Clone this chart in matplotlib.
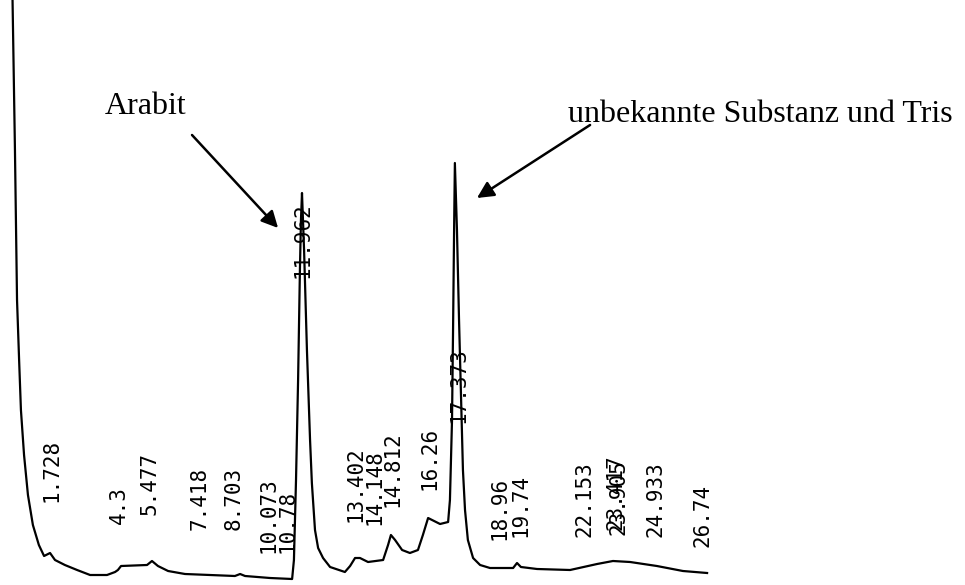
import numpy as np
import matplotlib.pyplot as plt

# ==============================
# Chromatogramm-Daten (Zeit in min, Signal in willk. Einheiten)
# ==============================
zeit = [0.36, 0.46, 0.54, 0.62, 0.69, 0.81, 0.96, 1.15, 1.38, 1.58, 1.81,
        2.00, 2.38, 2.85, 3.35, 4.00, 4.31, 4.42, 4.54, 5.54, 5.73,
        5.96, 6.35, 7.00, 7.96, 8.92, 9.12, 9.31, 10.27, 11.12, 11.19,
        11.27, 11.35, 11.42, 11.46, 11.50, 11.58, 11.69, 11.81, 11.88, 12.00,
        12.12, 12.31, 12.58, 13.15, 13.35, 13.54, 13.73, 14.04, 14.62, 14.81,
        14.92, 15.08, 15.35, 15.65, 15.96, 16.15, 16.35, 16.58, 16.81, 17.12,
        17.19, 17.27, 17.31, 17.35, 17.38, 17.46, 17.54, 17.62, 17.69, 17.77,
        17.88, 18.08, 18.35, 18.73, 19.62, 19.77, 19.92, 20.54, 21.81, 22.85,
        23.46, 24.12, 25.15, 26.15, 27.08]
signal = [59.0, 42.8, 27.8, 21.8, 16.8, 12.3, 8.3, 5.3, 3.3, 2.2, 2.5,
          1.8, 1.3, 0.8, 0.3, 0.3, 0.6, 0.8, 1.2, 1.3, 1.7,
          1.2, 0.7, 0.4, 0.3, 0.2, 0.4, 0.2, 0.0, -0.1, 1.8,
          9.8, 19.8, 30.8, 35.8, 38.5, 32.8, 22.8, 13.8, 9.5, 4.8,
          3.0, 2.0, 1.1, 0.6, 1.2, 2.0, 2.0, 1.6, 1.8, 3.3,
          4.3, 3.8, 2.8, 2.5, 2.8, 4.3, 6.0, 5.7, 5.4, 5.6,
          7.8, 15.8, 24.8, 34.8, 41.5, 34.8, 25.8, 17.8, 10.8, 6.8,
          3.8, 2.0, 1.3, 1.0, 1.0, 1.5, 1.1, 0.9, 0.8, 1.4,
          1.7, 1.6, 1.2, 0.7, 0.5]

# Retentionszeiten, wie vom Integrator gedruckt
ret_zeiten = ['1.728', '4.3', '5.477', '7.418', '8.703', '10.073', '10.78',
              '11.962', '13.402', '14.148', '14.812', '16.26', '17.373',
              '18.96', '19.74', '22.153', '23.417', '23.905', '24.933', '26.74']

# Layout der Beschriftungen (Startpunkt des Textes, Verschiebung in min)
label_y = [7.6, 5.4, 6.3, 4.8, 4.8, 2.5, 2.5, 30.0, 5.6, 5.3,
           7.1, 8.8, 15.5, 3.8, 4.1, 4.1, 4.8, 4.3, 4.1, 3.1]
label_dx = {'11.962': -0.58, '23.905': -0.37, '22.153': 0.05}

# ==============================
# Grafik
# ==============================
fig = plt.figure(figsize=(9.65, 5.85), dpi=100)
ax = fig.add_axes([0, 0, 1, 1])
ax.set_xlim(-0.115, 37.0)
ax.set_ylim(-0.7, 57.8)
ax.axis('off')

ax.plot(zeit, signal, color='black', lw=1.6, solid_joinstyle='round')

for lab, y in zip(ret_zeiten, label_y):
    x = float(lab) + 0.154 + label_dx.get(lab, 0)
    ax.text(x, y, lab, rotation=90, ha='center', va='bottom',
            family='DejaVu Sans Mono', fontsize=15, color='black')

# Beschriftungen mit Pfeilen
ax.text(3.92, 46.4, 'Arabit', family='Liberation Serif', fontsize=23,
        ha='left', va='baseline')
ax.annotate('', xy=(10.58, 35.0), xytext=(7.27, 44.3),
            arrowprops=dict(arrowstyle='-|>', mutation_scale=25, lw=1.8,
                            color='black', shrinkA=0, shrinkB=0))

ax.text(21.73, 45.6, 'unbekannte Substanz und Tris', family='Liberation Serif',
        fontsize=23, ha='left', va='baseline')
ax.annotate('', xy=(18.23, 38.0), xytext=(22.58, 45.3),
            arrowprops=dict(arrowstyle='-|>', mutation_scale=25, lw=1.8,
                            color='black', shrinkA=0, shrinkB=0))

fig.savefig('out.png', dpi=100)
